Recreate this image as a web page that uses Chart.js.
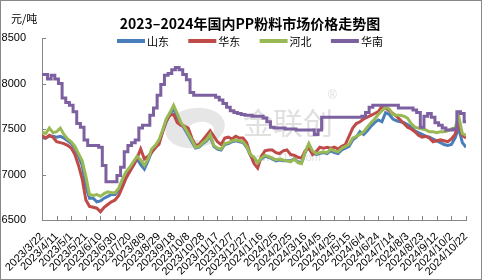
<!DOCTYPE html>
<html>
<head>
<meta charset="utf-8">
<script src="https://cdn.jsdelivr.net/npm/chart.js@4.4.1/dist/chart.umd.min.js"></script>
<style>
  body { margin: 0; background: #fff; }
  canvas { display: block; }
</style>
</head>
<body>
<canvas id="ppChart" width="482" height="280"></canvas>
<script>
// one sample every 5 days, starting 2023/3/22
const stepDays = 5;

const xTickLabels = ['2023/3/22', '2023/4/11', '2023/5/1', '2023/5/21', '2023/6/10', '2023/6/30', '2023/7/20',
  '2023/8/9', '2023/8/29', '2023/9/18', '2023/10/8', '2023/10/28', '2023/11/17', '2023/12/7', '2023/12/27',
  '2024/1/16', '2024/2/5', '2024/2/25', '2024/3/16', '2024/4/5', '2024/4/25', '2024/5/15', '2024/6/4',
  '2024/6/24', '2024/7/14', '2024/8/3', '2024/8/23', '2024/9/12', '2024/10/2', '2024/10/22'];

const seriesNames = ['山东', '华东', '河北', '华南'];

const shandong = [7400, 7400, 7420, 7420, 7410, 7420, 7400, 7370, 7340, 7290,
  7200, 7100, 6870, 6740, 6740, 6700, 6710, 6740, 6760, 6780,
  6780, 6830, 6920, 6980, 7040, 7100, 7170, 7110, 7060, 7150,
  7250, 7290, 7360, 7470, 7580, 7660, 7720, 7640, 7560, 7500,
  7430, 7360, 7290, 7300, 7340, 7370, 7420, 7310, 7280, 7270,
  7330, 7340, 7360, 7370, 7360, 7350, 7300, 7210, 7180, 7130,
  7170, 7200, 7190, 7170, 7150, 7160, 7150, 7150, 7150, 7170,
  7140, 7130, 7240, 7330, 7240, 7220, 7230, 7240, 7230, 7260,
  7240, 7230, 7270, 7290, 7310, 7380, 7410, 7470, 7440, 7480,
  7530, 7570, 7600, 7580, 7680, 7660, 7610, 7590, 7580, 7570,
  7550, 7520, 7480, 7460, 7440, 7420, 7410, 7390, 7370, 7350,
  7330, 7320, 7330, 7400, 7510, 7350, 7300];

const huadong = [7430, 7400, 7430, 7410, 7360, 7350, 7340, 7320, 7290, 7220,
  7100, 6950, 6720, 6650, 6640, 6630, 6590, 6640, 6670, 6700,
  6720, 6770, 6860, 6960, 7030, 7100, 7180, 7280, 7170, 7200,
  7240, 7300, 7330, 7470, 7590, 7650, 7660, 7570, 7540, 7530,
  7510, 7400, 7320, 7330, 7380, 7430, 7480, 7420, 7360, 7330,
  7400, 7410, 7390, 7420, 7400, 7400, 7350, 7220, 7120, 7070,
  7200, 7260, 7270, 7270, 7240, 7230, 7260, 7270, 7220, 7210,
  7190, 7180, 7260, 7290, 7220, 7250, 7300, 7290, 7300, 7290,
  7300, 7280, 7310, 7330, 7420, 7510, 7560, 7580, 7610, 7630,
  7650, 7670, 7690, 7750, 7730, 7700, 7670, 7640, 7600, 7560,
  7520, 7500, 7470, 7430, 7410, 7420, 7400, 7360, 7370, 7380,
  7370, 7360, 7390, 7440, 7570, 7430, 7400];

const hebei = [7470, 7450, 7510, 7460, 7470, 7510, 7440, 7390, 7360, 7310,
  7230, 7150, 6980, 6780, 6770, 6780, 6760, 6790, 6810, 6800,
  6800, 6850, 6950, 7030, 7080, 7140, 7200, 7160, 7100, 7170,
  7280, 7320, 7380, 7490, 7610, 7680, 7760, 7670, 7570, 7520,
  7450, 7380, 7300, 7310, 7350, 7380, 7440, 7320, 7290, 7280,
  7340, 7350, 7370, 7380, 7370, 7360, 7310, 7220, 7190, 7130,
  7180, 7210, 7200, 7180, 7160, 7170, 7160, 7150, 7140, 7170,
  7130, 7120, 7250, 7340, 7260, 7230, 7240, 7250, 7240, 7280,
  7260, 7250, 7290, 7310, 7330, 7400, 7420, 7440, 7470, 7520,
  7570, 7610, 7660, 7700, 7740, 7720, 7660, 7650, 7650, 7640,
  7620, 7560, 7520, 7510, 7500, 7490, 7470, 7470, 7460, 7470,
  7470, 7480, 7500, 7510, 7640, 7450, 7430];

const huanan = [8100, 8100, 8050, 8090, 8050, 8000, 7840, 7790, 7760, 7690,
  7560, 7520, 7380, 7320, 7320, 7320, 7300, 7100, 6920, 6920,
  6920, 6990, 7080, 7250, 7320, 7350, 7380, 7510, 7540, 7540,
  7650, 7730, 7870, 7990, 8090, 8110, 8150, 8175, 8150, 8100,
  8040, 7900, 7870, 7870, 7870, 7870, 7870, 7870, 7850, 7820,
  7780, 7740, 7700, 7680, 7670, 7660, 7650, 7650, 7640, 7640,
  7640, 7620, 7580, 7520, 7510, 7510, 7510, 7500, 7500, 7500,
  7490, 7490, 7490, 7490, 7490, 7440, 7490, 7630, 7630, 7630,
  7630, 7630, 7630, 7630, 7630, 7630, 7630, 7630, 7640, 7680,
  7740, 7760, 7760, 7760, 7760, 7760, 7760, 7760, 7730, 7730,
  7730, 7730, 7710, 7680, 7520, 7640, 7670, 7630, 7570, 7540,
  7510, 7490, 7490, 7500, 7690, 7670, 7580];

const colors = ['#4A7EBB', '#BE4B48', '#98B954', '#7D60A0'];

function toPoints(values) {
  return values.map((v, i) => ({ x: i * stepDays, y: v }));
}

const axisColor = '#868686';
const latin = '"Liberation Sans", Arial, sans-serif';
const cjk = '"Noto Sans CJK SC", "Noto Sans", sans-serif';

const decor = {
  id: 'decor',
  beforeDatasetsDraw(chart) {
    const ctx = chart.ctx;
    ctx.save();
    // watermark
    ctx.fillStyle = '#e6e6e6';
    ctx.beginPath();
    ctx.ellipse(195, 128, 30, 20, -0.15, 0, Math.PI * 2);
    ctx.fill();
    ctx.fillStyle = '#ffffff';
    ctx.beginPath();
    ctx.ellipse(200, 131, 14, 9, -0.15, 0, Math.PI * 2);
    ctx.fill();
    ctx.fillStyle = '#e0e0e0';
    ctx.font = '30px ' + cjk;
    ctx.textBaseline = 'middle';
    ctx.textAlign = 'left';
    ctx.fillText('金联创', 243, 123);
    ctx.font = '12px ' + latin;
    ctx.fillText('®', 328, 96);
    ctx.font = '11px ' + latin;
    ctx.fillText('www.315i.com', 250, 158);
    ctx.restore();
  },
  afterDraw(chart) {
    const ctx = chart.ctx;
    const x = chart.scales.x, y = chart.scales.y;
    ctx.save();
    // inward tick marks
    ctx.strokeStyle = axisColor;
    ctx.lineWidth = 1;
    ctx.beginPath();
    y.ticks.forEach((t, i) => {
      const py = Math.round(y.getPixelForTick(i)) + 0.5;
      ctx.moveTo(x.left, py);
      ctx.lineTo(x.left + 4, py);
    });
    x.ticks.forEach((t, i) => {
      const px = Math.round(x.getPixelForTick(i)) + 0.5;
      ctx.moveTo(px, y.bottom);
      ctx.lineTo(px, y.bottom - 4);
    });
    ctx.stroke();

    // title and unit
    ctx.fillStyle = '#000';
    ctx.textAlign = 'center';
    ctx.textBaseline = 'middle';
    ctx.font = 'bold 14px ' + cjk;
    ctx.fillText('2023–2024年国内PP粉料市场价格走势图', 250, 24);
    ctx.font = '11px ' + cjk;
    ctx.textAlign = 'left';
    ctx.fillText('元/吨', 11, 19);

    // legend
    chart.data.datasets.forEach((ds, i) => {
      const lx = 117 + i * 71.3;
      ctx.fillStyle = ds.borderColor;
      ctx.fillRect(lx, 39, 28, 4);
      ctx.fillStyle = '#000';
      ctx.font = '11px ' + cjk;
      ctx.fillText(ds.label, lx + 30, 42);
    });

    // frame
    ctx.strokeStyle = '#888';
    ctx.strokeRect(0.5, 0.5, chart.width - 1, chart.height - 1);
    ctx.restore();
  }
};

new Chart(document.getElementById('ppChart'), {
  type: 'line',
  data: {
    datasets: seriesNames.map((name, i) => ({
      label: name,
      data: toPoints([shandong, huadong, hebei, huanan][i]),
      borderColor: colors[i],
      backgroundColor: colors[i],
      borderWidth: 3,
      pointRadius: 0,
      tension: 0,
      stepped: i === 3 ? 'middle' : false,
      order: 3 - i
    }))
  },
  options: {
    responsive: false,
    animation: false,
    devicePixelRatio: 1,
    layout: { padding: { top: 38, right: 16, left: 0, bottom: 0 } },
    plugins: {
      legend: { display: false },
      title: { display: false },
      tooltip: { enabled: false }
    },
    scales: {
      x: {
        type: 'linear',
        min: 0,
        max: 580,
        afterFit: s => { s.height = 60; },
        grid: { display: false },
        border: { display: true, color: axisColor },
        ticks: {
          stepSize: 20,
          autoSkip: false,
          maxRotation: 45,
          minRotation: 45,
          padding: 2,
          color: '#000',
          font: { family: latin, size: 11 },
          callback: (v, i) => xTickLabels[i]
        }
      },
      y: {
        min: 6500,
        max: 8500,
        afterFit: s => { s.width = 42; },
        grid: { display: false },
        border: { display: true, color: axisColor },
        ticks: {
          stepSize: 500,
          padding: 8,
          color: '#000',
          font: { family: latin, size: 11 },
          callback: v => String(v)
        }
      }
    }
  },
  plugins: [decor]
});
</script>
</body>
</html>
